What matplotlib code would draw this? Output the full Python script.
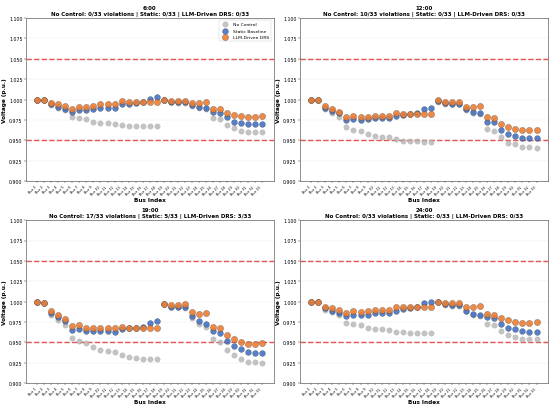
import matplotlib
matplotlib.use("Agg")
import matplotlib.pyplot as plt
import numpy as np

bus_labels = [f"Bus {i}" for i in range(1, 34)]
hours = ["6:00", "12:00", "19:00", "24:00"]

no_control_0600 = [1.000, 0.999, 0.993, 0.990, 0.987, 0.978, 0.977, 0.976, 0.973, 0.971, 0.971,
                   0.970, 0.969, 0.968, 0.968, 0.968, 0.967, 0.967, 0.999, 0.997, 0.996, 0.996,
                   0.992, 0.990, 0.989, 0.977, 0.976, 0.969, 0.965, 0.962, 0.960, 0.960, 0.960]
static_0600 = [1.000, 0.999, 0.994, 0.991, 0.989, 0.985, 0.987, 0.987, 0.988, 0.990, 0.990,
               0.990, 0.994, 0.995, 0.996, 0.997, 1.001, 1.003, 0.999, 0.997, 0.997, 0.997,
               0.993, 0.991, 0.990, 0.985, 0.984, 0.978, 0.973, 0.971, 0.970, 0.970, 0.970]
llm_0600 = [1.000, 0.999, 0.996, 0.994, 0.992, 0.989, 0.991, 0.991, 0.992, 0.994, 0.994,
            0.994, 0.998, 0.997, 0.997, 0.997, 0.997, 0.997, 0.999, 0.998, 0.998, 0.998,
            0.996, 0.996, 0.997, 0.989, 0.988, 0.984, 0.981, 0.980, 0.979, 0.979, 0.980]

no_control_1200 = [1.000, 0.999, 0.989, 0.984, 0.979, 0.966, 0.963, 0.961, 0.958, 0.955, 0.954,
                   0.954, 0.951, 0.9495, 0.949, 0.949, 0.948, 0.948, 0.997, 0.995, 0.994, 0.994,
                   0.987, 0.984, 0.982, 0.964, 0.962, 0.954, 0.947, 0.945, 0.942, 0.942, 0.941]
static_1200 = [1.000, 0.999, 0.990, 0.986, 0.983, 0.975, 0.976, 0.975, 0.976, 0.977, 0.977,
               0.977, 0.980, 0.981, 0.982, 0.983, 0.988, 0.990, 0.998, 0.996, 0.995, 0.995,
               0.989, 0.985, 0.984, 0.973, 0.972, 0.963, 0.958, 0.955, 0.953, 0.953, 0.953]
llm_1200 = [1.000, 0.999, 0.992, 0.989, 0.985, 0.979, 0.980, 0.979, 0.979, 0.980, 0.980,
            0.980, 0.983, 0.982, 0.982, 0.982, 0.982, 0.982, 0.999, 0.997, 0.997, 0.997,
            0.991, 0.991, 0.992, 0.978, 0.977, 0.970, 0.966, 0.964, 0.963, 0.963, 0.963]

no_control_1900 = [1.000, 0.998, 0.984, 0.978, 0.971, 0.955, 0.952, 0.949, 0.944, 0.940, 0.939,
                   0.938, 0.934, 0.932, 0.931, 0.930, 0.929, 0.929, 0.997, 0.994, 0.993, 0.992,
                   0.980, 0.973, 0.969, 0.954, 0.951, 0.941, 0.934, 0.930, 0.926, 0.926, 0.925]
static_1900 = [1.000, 0.998, 0.986, 0.981, 0.976, 0.965, 0.966, 0.964, 0.964, 0.964, 0.964,
               0.963, 0.966, 0.967, 0.967, 0.969, 0.974, 0.976, 0.997, 0.994, 0.993, 0.993,
               0.982, 0.976, 0.973, 0.964, 0.962, 0.952, 0.945, 0.942, 0.938, 0.937, 0.937]
llm_1900 = [1.000, 0.998, 0.989, 0.984, 0.979, 0.970, 0.971, 0.968, 0.968, 0.968, 0.967,
            0.967, 0.969, 0.968, 0.967, 0.967, 0.967, 0.967, 0.997, 0.996, 0.996, 0.997,
            0.987, 0.985, 0.986, 0.969, 0.967, 0.959, 0.954, 0.951, 0.9485, 0.9485, 0.9488]

no_control_2400 = [1.000, 0.999, 0.990, 0.987, 0.983, 0.974, 0.972, 0.971, 0.968, 0.966, 0.966,
                   0.965, 0.963, 0.963, 0.962, 0.962, 0.961, 0.961, 0.999, 0.996, 0.995, 0.995,
                   0.988, 0.983, 0.982, 0.973, 0.971, 0.964, 0.959, 0.957, 0.954, 0.954, 0.954]
static_2400 = [1.000, 0.999, 0.992, 0.989, 0.986, 0.982, 0.984, 0.983, 0.984, 0.986, 0.986,
               0.986, 0.989, 0.991, 0.992, 0.993, 0.998, 0.999, 0.999, 0.997, 0.996, 0.996,
               0.989, 0.985, 0.983, 0.981, 0.980, 0.973, 0.968, 0.966, 0.964, 0.963, 0.963]
llm_2400 = [1.000, 0.999, 0.994, 0.992, 0.990, 0.986, 0.988, 0.987, 0.988, 0.990, 0.990,
            0.990, 0.994, 0.993, 0.993, 0.993, 0.993, 0.993, 0.999, 0.998, 0.998, 0.998,
            0.994, 0.993, 0.995, 0.985, 0.984, 0.980, 0.977, 0.975, 0.974, 0.974, 0.975]

no_control = [no_control_0600, no_control_1200, no_control_1900, no_control_2400]
static = [static_0600, static_1200, static_1900, static_2400]
llm = [llm_0600, llm_1200, llm_1900, llm_2400]
V_MIN, V_MAX = 0.95, 1.05

def violations(v):
    return sum(1 for x in v if x < V_MIN or x > V_MAX)

fig, axes = plt.subplots(2, 2, figsize=(16, 11.81), dpi=34.375)
fig.subplots_adjust(left=0.047, right=0.996, top=0.953, bottom=0.054,
                    wspace=0.106, hspace=0.24)

x = np.arange(len(bus_labels))
yt = np.arange(0.9, 1.1001, 0.025)
for i, ax in enumerate(axes.flat):
    nc, st, lm = no_control[i], static[i], llm[i]
    ax.scatter(x, nc, s=130, color="#b4b4b4", alpha=0.8, edgecolors="#a0a0a0",
               linewidths=0.6, label="No Control", zorder=3)
    ax.scatter(x, st, s=150, color="#4472C4", alpha=0.9, edgecolors="#333333",
               linewidths=0.6, label="Static Baseline", zorder=4)
    ax.scatter(x, lm, s=170, color="#ED7D31", alpha=0.9, edgecolors="#333333",
               linewidths=0.6, label="LLM-Driven DRS", zorder=5)
    ax.axhline(V_MIN, color="#e02020", linestyle="--", linewidth=3, alpha=0.75, zorder=2.5)
    ax.axhline(V_MAX, color="#e02020", linestyle="--", linewidth=3, alpha=0.75, zorder=2.5)
    ax.set_ylim(0.9, 1.1)
    ax.set_yticks(yt)
    ax.set_yticklabels([f"{t:.3f}" for t in yt], fontsize=10)
    ax.set_xticks(x)
    ax.set_xticklabels(bus_labels, rotation=45, ha="right", fontsize=7)
    ax.set_xlim(-1.6, 33.6)
    ax.grid(True, axis="y", color="#e8e8e8", alpha=1.0, zorder=0)
    ax.set_axisbelow(True)
    ax.set_xlabel("Bus Index", fontsize=12, fontweight="bold")
    ax.set_ylabel("Voltage (p.u.)", fontsize=12, fontweight="bold")
    ax.set_title(f"{hours[i]}\nNo Control: {violations(nc)}/33 violations | "
                 f"Static: {violations(st)}/33 | LLM-Driven DRS: {violations(lm)}/33",
                 fontsize=11.5, fontweight="bold")
    for sp in ax.spines.values():
        sp.set_color("#666666")
        sp.set_linewidth(1.5)
    if i == 0:
        ax.legend(loc="upper right", fontsize=9.5, framealpha=0.9)

fig.savefig("out.png", dpi=34.375)
